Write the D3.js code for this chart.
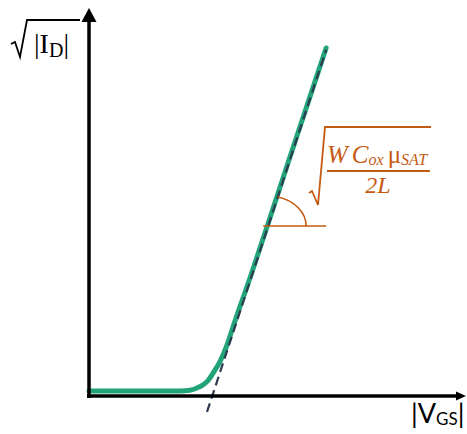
<!DOCTYPE html>
<html><head><meta charset="utf-8">
<script src="https://cdn.jsdelivr.net/npm/d3@7"></script>
<style>html,body{margin:0;padding:0;background:#fff;}svg{display:block;}</style>
</head><body>
<svg id="c" width="467" height="434"></svg>
<script>
// data (normalized units: V_GS on x, sqrt|I_D| on y)
const vgs    = [0.000, 0.241, 0.268, 0.294, 0.313, 0.329, 0.347, 0.366, 0.382, 0.427, 0.480, 0.533, 0.586, 0.629];
const sqrtId = [0.013, 0.013, 0.015, 0.024, 0.037, 0.059, 0.088, 0.131, 0.178, 0.304, 0.459, 0.616, 0.771, 0.897];
const tangentV = [0.313, 0.629];
const tangentI = [-0.041, 0.892];
const angleV = [0.462, 0.629];
const angleI = 0.438;

const svg = d3.select('#c');
const x = d3.scaleLinear().domain([0, 1]).range([89, 466]);
const y = d3.scaleLinear().domain([0, 1]).range([396, 8]);
const orange = '#C55A11', green = '#22A47A', navy = '#2E3A50';

// curve
const pts = vgs.map((v, i) => [v, sqrtId[i]]);
svg.append('path').datum(pts)
  .attr('d', d3.line().x(d => x(d[0])).y(d => y(d[1])).curve(d3.curveMonotoneX))
  .attr('fill', 'none').attr('stroke', green).attr('stroke-width', 5).attr('stroke-linecap', 'round');

// tangent dashed
svg.append('line')
  .attr('x1', x(tangentV[0])).attr('y1', y(tangentI[0]))
  .attr('x2', x(tangentV[1])).attr('y2', y(tangentI[1]))
  .attr('stroke', navy).attr('stroke-width', 2.2).attr('stroke-dasharray', '9,5');

// axes
svg.append('line').attr('x1', x(0)).attr('y1', y(0) + 2).attr('x2', x(0)).attr('y2', y(1) + 12)
  .attr('stroke', '#000').attr('stroke-width', 3.5);
svg.append('path').attr('d', `M${x(0)},${y(1)} L${x(0) - 7.5},${y(1) + 14} L${x(0) + 7.5},${y(1) + 14} Z`).attr('fill', '#000');
svg.append('line').attr('x1', x(0) - 2).attr('y1', y(0)).attr('x2', x(1) - 8).attr('y2', y(0))
  .attr('stroke', '#000').attr('stroke-width', 3.5);
svg.append('path').attr('d', `M${x(1)},${y(0)} L${x(1) - 10},${y(0) - 4.5} L${x(1) - 10},${y(0) + 4.5} Z`).attr('fill', '#000');

// angle marker
const slope = (tangentI[1] - tangentI[0]) / (tangentV[1] - tangentV[0]);
const vx = x(tangentV[0] + (angleI - tangentI[0]) / slope), vy = y(angleI);
svg.append('line').attr('x1', x(angleV[0])).attr('y1', vy).attr('x2', x(angleV[1])).attr('y2', vy)
  .attr('stroke', orange).attr('stroke-width', 1.6);
const dxp = x(tangentV[1]) - x(tangentV[0]), dyp = y(tangentI[1]) - y(tangentI[0]);
const L = Math.hypot(dxp, dyp), ux = dxp / L, uy = dyp / L;
const rx = 38, ry = 30;
const t = 1 / Math.sqrt((ux * ux) / (rx * rx) + (uy * uy) / (ry * ry));
svg.append('path').attr('d', `M${vx + rx},${vy} A${rx},${ry} 0 0 0 ${vx + t * ux},${vy + t * uy}`)
  .attr('fill', 'none').attr('stroke', orange).attr('stroke-width', 1.6);

// formula radical
svg.append('path').attr('d', 'M309,193 L312,191 L318,205 L325,127 L431,127')
  .attr('fill', 'none').attr('stroke', orange).attr('stroke-width', 1.8).attr('stroke-linejoin', 'miter');
svg.append('line').attr('x1', 327).attr('x2', 430).attr('y1', 171).attr('y2', 171)
  .attr('stroke', orange).attr('stroke-width', 1.8);
const ff = "'Liberation Serif', 'DejaVu Serif', serif";
const num = svg.append('text').attr('x', 327).attr('y', 163).attr('fill', orange).attr('font-family', ff).attr('font-size', 25);
num.append('tspan').attr('font-style', 'italic').text('W');
num.append('tspan').attr('dx', 4).attr('font-style', 'italic').text('C');
num.append('tspan').attr('dy', 2).attr('font-size', 16).attr('font-style', 'italic').text('ox');
num.append('tspan').attr('dx', 4).attr('dy', -2).text('μ');
num.append('tspan').attr('dy', 2).attr('font-size', 16).attr('font-style', 'italic').text('SAT');
svg.append('text').attr('x', 378).attr('y', 193).attr('text-anchor', 'middle').attr('fill', orange)
  .attr('font-family', ff).attr('font-size', 24).attr('font-style', 'italic').text('2L');

// y label
svg.append('path').attr('d', 'M11,44 L15,42 L20,57 L27,20 L80,20')
  .attr('fill', 'none').attr('stroke', '#000').attr('stroke-width', 1.8);
const yl = svg.append('text').attr('x', 34).attr('y', 53).attr('font-family', ff).attr('font-size', 28).attr('fill', '#000');
yl.append('tspan').text('|I');
yl.append('tspan').attr('dy', 4).attr('font-size', 20).text('D');
yl.append('tspan').attr('dy', -4).text('|');

// x label
const sf = "Lato, 'Open Sans', sans-serif";
const xl = svg.append('text').attr('x', 411).attr('y', 423).attr('font-family', sf).attr('font-size', 27).attr('fill', '#000');
xl.append('tspan').text('|V');
xl.append('tspan').attr('dy', 2).attr('font-size', 17).text('GS');
xl.append('tspan').attr('dy', -2).text('|');
</script>
</body></html>
